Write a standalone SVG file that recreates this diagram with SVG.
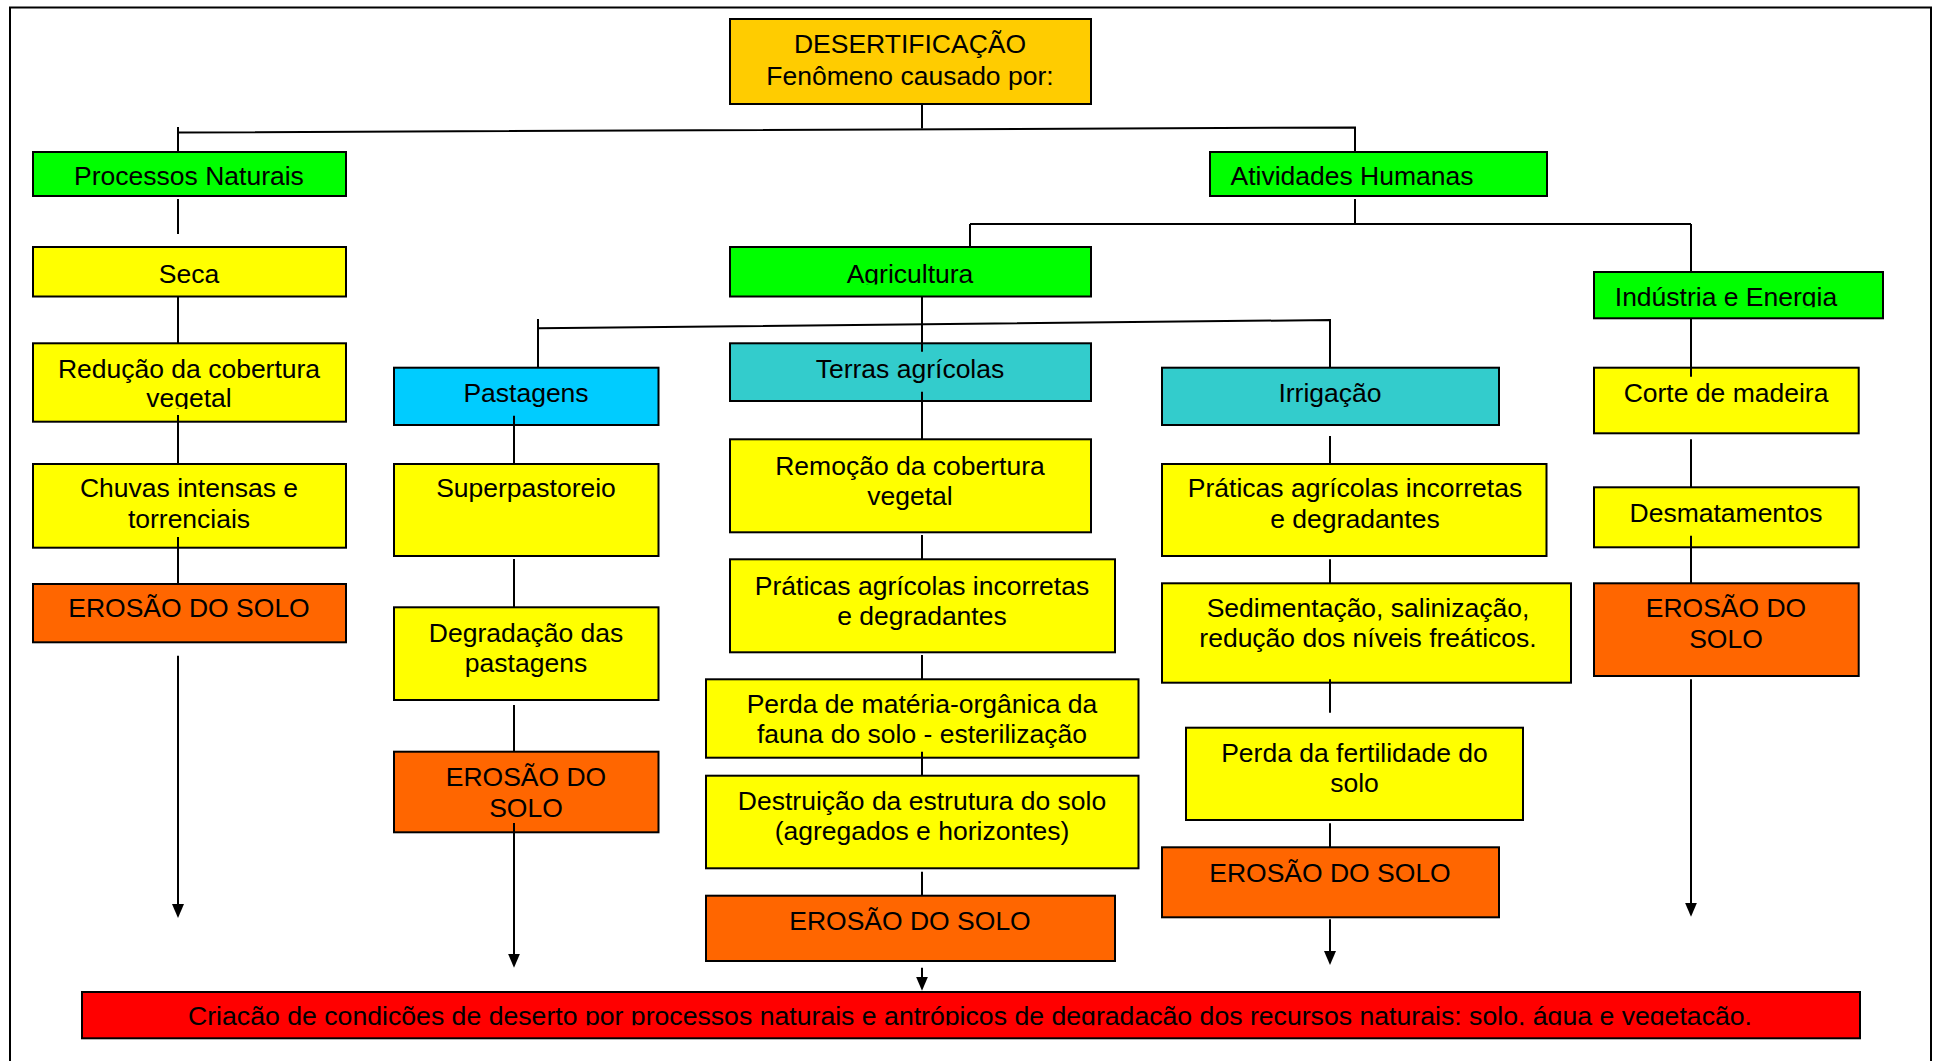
<svg xmlns="http://www.w3.org/2000/svg" width="1937" height="1061" viewBox="0 0 1937 1061">
<style>
.b{stroke:#000;stroke-width:2}
.yel{fill:#ffff00}
.org{fill:#ff6600}
.grn{fill:#00ff00}
.sky{fill:#00ccff}
.teal{fill:#33cccc}
.gold{fill:#ffcc00}
.red{fill:#ff0000}
text{font-family:"Liberation Sans",Arial,Helvetica,sans-serif;font-size:26.5px;text-anchor:middle;fill:#000}
.c{stroke:#000;stroke-width:2;fill:none}
.a{marker-end:url(#ah)}
</style>
<defs>
<marker id="ah" viewBox="0 0 14 12" refX="10" refY="6" markerWidth="14" markerHeight="12" markerUnits="userSpaceOnUse" orient="auto"><path d="M0,0 L14,6 L0,12 z" fill="#000"/></marker>
<clipPath id="clipAgri"><rect x="730" y="247" width="361" height="37.5"/></clipPath>
<clipPath id="clipInd"><rect x="1594" y="272" width="289" height="35.3"/></clipPath>
<clipPath id="clipRed"><rect x="33" y="343" width="313" height="66"/></clipPath>
<clipPath id="clipBot"><rect x="82" y="992" width="1778" height="33.3"/></clipPath>
</defs>
<rect x="0" y="0" width="1937" height="1061" fill="#fff"/>
<rect x="10" y="7.5" width="1921" height="1070" fill="none" stroke="#000" stroke-width="2"/>

<g id="n-desertificacao"><rect class="b gold" x="730" y="19" width="361" height="85"/><text><tspan x="910" y="53">DESERTIFICAÇÃO</tspan><tspan x="910" y="85">Fenômeno causado por:</tspan></text></g>
<g id="n-processos"><rect class="b grn" x="33" y="152" width="313" height="44"/><text x="189" y="185">Processos Naturais</text></g>
<g id="n-atividades"><rect class="b grn" x="1210" y="152" width="337" height="44"/><text x="1352" y="185">Atividades Humanas</text></g>
<g id="n-seca"><rect class="b yel" x="33" y="247" width="313" height="49.5"/><text x="189" y="283">Seca</text></g>
<g id="n-agricultura"><rect class="b grn" x="730" y="247" width="361" height="49.5"/><text x="910" y="283" clip-path="url(#clipAgri)">Agricultura</text></g>
<g id="n-industria"><rect class="b grn" x="1594" y="272" width="289" height="46.3"/><text x="1726" y="305.5" clip-path="url(#clipInd)">Indústria e Energia</text></g>
<g id="n-reducao"><rect class="b yel" x="33" y="343.3" width="313" height="78.4"/><text clip-path="url(#clipRed)"><tspan x="189" y="378">Redução da cobertura</tspan><tspan x="189" y="407">vegetal</tspan></text></g>
<g id="n-pastagens"><rect class="b sky" x="394" y="367.7" width="264.5" height="57.3"/><text x="526" y="401.7">Pastagens</text></g>
<g id="n-terras"><rect class="b teal" x="730" y="343.3" width="361" height="57.7"/><text x="910" y="378">Terras agrícolas</text></g>
<g id="n-irrigacao"><rect class="b teal" x="1162" y="367.7" width="337" height="57.3"/><text x="1330" y="401.7">Irrigação</text></g>
<g id="n-corte"><rect class="b yel" x="1594" y="367.7" width="264.7" height="65.6"/><text x="1726" y="401.7">Corte de madeira</text></g>
<g id="n-chuvas"><rect class="b yel" x="33" y="464" width="313" height="83.7"/><text><tspan x="189" y="496.7">Chuvas intensas e</tspan><tspan x="189" y="528">torrenciais</tspan></text></g>
<g id="n-superpastoreio"><rect class="b yel" x="394" y="464" width="264.5" height="92"/><text x="526" y="496.7">Superpastoreio</text></g>
<g id="n-remocao"><rect class="b yel" x="730" y="439.3" width="361" height="93"/><text><tspan x="910" y="475">Remoção da cobertura</tspan><tspan x="910" y="505">vegetal</tspan></text></g>
<g id="n-praticas-irr"><rect class="b yel" x="1162" y="464" width="384.5" height="92"/><text><tspan x="1355" y="496.7">Práticas agrícolas incorretas</tspan><tspan x="1355" y="528">e degradantes</tspan></text></g>
<g id="n-desmatamentos"><rect class="b yel" x="1594" y="487.3" width="264.7" height="60"/><text x="1726" y="521.7">Desmatamentos</text></g>
<g id="n-praticas-agri"><rect class="b yel" x="730" y="559.3" width="385" height="93"/><text><tspan x="922" y="595">Práticas agrícolas incorretas</tspan><tspan x="922" y="625">e degradantes</tspan></text></g>
<g id="n-sedimentacao"><rect class="b yel" x="1162" y="583.3" width="409" height="99.4"/><text><tspan x="1368" y="616.7">Sedimentação, salinização,</tspan><tspan x="1368" y="646.7">redução dos níveis freáticos.</tspan></text></g>
<g id="n-erosao-nat"><rect class="b org" x="33" y="584" width="313" height="58.3"/><text x="189" y="617">EROSÃO DO SOLO</text></g>
<g id="n-erosao-ind"><rect class="b org" x="1594" y="583.3" width="264.7" height="92.7"/><text><tspan x="1726" y="617.3">EROSÃO DO</tspan><tspan x="1726" y="648.3">SOLO</tspan></text></g>
<g id="n-degradacao"><rect class="b yel" x="394" y="607.3" width="264.5" height="92.7"/><text><tspan x="526" y="641.7">Degradação das</tspan><tspan x="526" y="671.7">pastagens</tspan></text></g>
<g id="n-perda-materia"><rect class="b yel" x="706" y="679.3" width="432.5" height="78.4"/><text><tspan x="922" y="713.3">Perda de matéria-orgânica da</tspan><tspan x="922" y="743.3">fauna do solo - esterilização</tspan></text></g>
<g id="n-perda-fertilidade"><rect class="b yel" x="1186" y="727.7" width="337" height="92.3"/><text><tspan x="1354.5" y="761.7">Perda da fertilidade do</tspan><tspan x="1354.5" y="791.7">solo</tspan></text></g>
<g id="n-erosao-past"><rect class="b org" x="394" y="751.7" width="264.5" height="80.6"/><text><tspan x="526" y="786">EROSÃO DO</tspan><tspan x="526" y="816.7">SOLO</tspan></text></g>
<g id="n-destruicao"><rect class="b yel" x="706" y="775.7" width="432.5" height="92.6"/><text><tspan x="922" y="810">Destruição da estrutura do solo</tspan><tspan x="922" y="840">(agregados e horizontes)</tspan></text></g>
<g id="n-erosao-irr"><rect class="b org" x="1162" y="847.3" width="337" height="70"/><text x="1330" y="881.7">EROSÃO DO SOLO</text></g>
<g id="n-erosao-agri"><rect class="b org" x="706" y="895.7" width="409" height="65.3"/><text x="910" y="930">EROSÃO DO SOLO</text></g>
<g id="n-criacao"><rect class="b red" x="82" y="992" width="1778" height="46.3"/><text x="970" y="1024.5" textLength="1564" lengthAdjust="spacingAndGlyphs" clip-path="url(#clipBot)">Criação de condições de deserto por processos naturais e antrópicos de degradação dos recursos naturais: solo, água e vegetação.</text></g>

<g id="connectors">
<path class="c" d="M922,104 V128.5"/>
<path class="c" d="M178,127 V152"/>
<path class="c" d="M178,132.5 L1355,127.5 V152"/>
<path class="c" d="M178,199 V234"/>
<path class="c" d="M178,296.5 V343.3"/>
<path class="c" d="M178,415 V464"/>
<path class="c" d="M178,537 V584"/>
<path class="c a" d="M178,655.7 V914"/>
<path class="c" d="M1355,199 V224 M970,224 H1691 M970,224 V247 M1691,224 V272"/>
<path class="c" d="M922,296.5 V351.7"/>
<path class="c" d="M538,328.3 L1330,320 V367.7 M538,319 V367.7"/>
<path class="c" d="M922,391.7 V439.3"/>
<path class="c" d="M922,535 V559.3"/>
<path class="c" d="M922,655 V679.3"/>
<path class="c" d="M922,751.7 V775.7"/>
<path class="c" d="M922,871.7 V895.7"/>
<path class="c a" d="M922,967.7 V986.7"/>
<path class="c" d="M514,415.7 V464"/>
<path class="c" d="M514,559 V607.3"/>
<path class="c" d="M514,705 V751.7"/>
<path class="c a" d="M514,823 V963.7"/>
<path class="c" d="M1330,436 V464"/>
<path class="c" d="M1330,559.3 V583.3"/>
<path class="c" d="M1330,679.3 V712.7"/>
<path class="c" d="M1330,823.3 V847.3"/>
<path class="c a" d="M1330,919.3 V961"/>
<path class="c" d="M1691,318 V376.7"/>
<path class="c" d="M1691,439.3 V487.3"/>
<path class="c" d="M1691,535.7 V583.3"/>
<path class="c a" d="M1691,679.3 V912.7"/>
</g>
</svg>
